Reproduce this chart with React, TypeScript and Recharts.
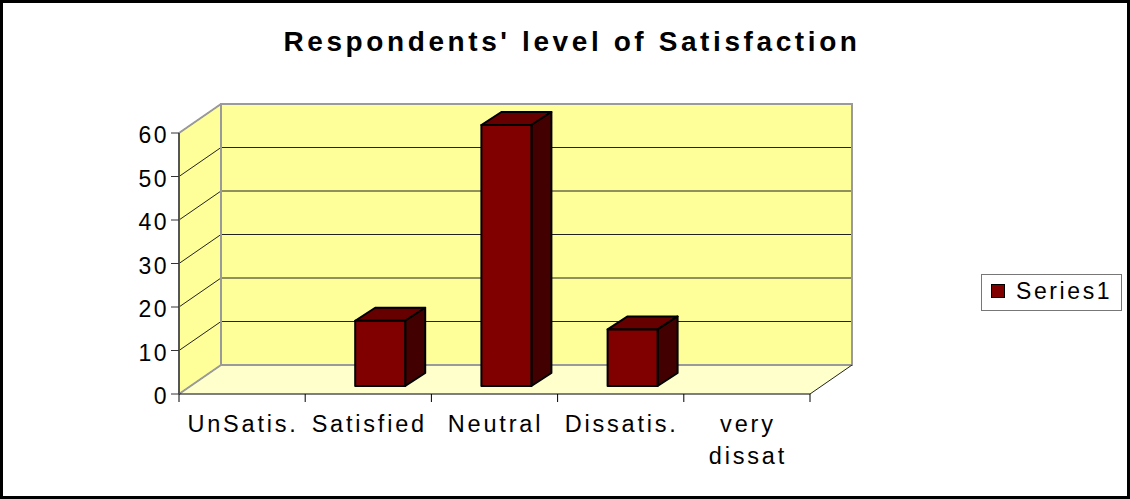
import { BarChart, Bar, XAxis, YAxis, CartesianGrid, ReferenceArea, Legend } from 'recharts';

const categories = ['UnSatis.', 'Satisfied', 'Neutral', 'Dissatis.', 'very dissat'];
const series1 = [0, 15, 60, 13, 0];
const yTicks = [0, 10, 20, 30, 40, 50, 60];

const data = categories.map((category, i) => ({ category, Series1: series1[i] }));

const FONT = '"Liberation Sans", Arial, sans-serif';
// depth of the 3D box and of the bars
const DX = 42;
const DY = 29;
const BAR_DX = 12;
const BAR_DY = 8;
const BAR_DEPTH_X = 20;
const BAR_DEPTH_Y = 13;

function Walls(props: any) {
  const { x, y, width: w, height: h } = props;
  const b = y + h;
  return (
    <g>
      <rect x={x + DX} y={y - DY} width={w} height={h} fill="#FFFF99" />
      <polygon points={`${x},${b} ${x},${y} ${x + DX},${y - DY} ${x + DX},${b - DY}`} fill="#FFFF99" />
      <polygon points={`${x},${b} ${x + w},${b} ${x + w + DX},${b - DY} ${x + DX},${b - DY}`} fill="#FFFFCC" />
    </g>
  );
}

function WallEdges(props: any) {
  const { x, y, width: w, height: h } = props;
  const b = y + h;
  const n = categories.length;
  return (
    <g>
      <rect x={x + DX} y={y - DY} width={w} height={h} fill="none" stroke="#9a9a9a" strokeWidth={2} />
      <line x1={x} y1={y} x2={x + DX} y2={y - DY} stroke="#9a9a9a" strokeWidth={2} />
      <line x1={x} y1={b} x2={x + DX} y2={b - DY} stroke="#9a9a9a" strokeWidth={2} />
      <line x1={x + w} y1={b} x2={x + w + DX} y2={b - DY} stroke="#222" strokeWidth={1} />
      {Array.from({ length: n + 1 }, (_, i) => (
        <line key={i} x1={x + (i * w) / n} y1={b} x2={x + (i * w) / n} y2={b + 8} stroke="#000" strokeWidth={1} />
      ))}
    </g>
  );
}

function GridLine(props: any) {
  const { x1, y1, x2 } = props;
  return (
    <g key={props.key}>
      <line x1={x1 + DX} y1={y1 - DY} x2={x2 + DX} y2={y1 - DY} stroke="#222" strokeWidth={1} />
      <line x1={x1} y1={y1} x2={x1 + DX} y2={y1 - DY} stroke="#222" strokeWidth={1} />
    </g>
  );
}

function Bar3D(props: any) {
  const { x, y, width: w, height: h } = props;
  if (!h || h <= 0) return null;
  const fx = x + BAR_DX;
  const fy = y - BAR_DY;
  const bx = fx + BAR_DEPTH_X;
  const by = fy - BAR_DEPTH_Y;
  return (
    <g stroke="#000" strokeWidth={2} strokeLinejoin="round">
      <polygon points={`${fx},${fy} ${bx},${by} ${bx + w},${by} ${fx + w},${fy}`} fill="#660000" />
      <polygon points={`${fx + w},${fy} ${bx + w},${by} ${bx + w},${by + h} ${fx + w},${fy + h}`} fill="#420000" />
      <rect x={fx} y={fy} width={w} height={h} fill="#800000" />
    </g>
  );
}

function CategoryTick(props: any) {
  const { x, y, payload } = props;
  const label: string = payload.value;
  const lines = label.includes(' ') ? label.split(' ') : [label];
  return (
    <text x={x} y={y} textAnchor="middle" fontSize={23.5} fill="#000" fontFamily={FONT} letterSpacing={2.8}>
      {lines.map((l, i) => (
        <tspan key={i} x={x + 1} dy={i === 0 ? 38 : 32}>
          {l}
        </tspan>
      ))}
    </text>
  );
}

function ValueTick(props: any) {
  const { x, y, payload } = props;
  return (
    <text x={x} y={y} dy={10} textAnchor="end" fontSize={23} fill="#000" fontFamily={FONT} letterSpacing={2.5}>
      {payload.value}
    </text>
  );
}

function LegendBox(props: any) {
  const item = (props.payload || [])[0];
  return (
    <div
      style={{
        position: 'relative',
        width: 141,
        height: 37,
        boxSizing: 'border-box',
        border: '1px solid #777',
        background: '#fff',
      }}
    >
      <div
        style={{
          position: 'absolute',
          left: 9,
          top: 9,
          width: 14,
          height: 14,
          boxSizing: 'border-box',
          background: item ? item.color : '#800000',
          border: '1px solid #000',
        }}
      />
      <span
        style={{
          position: 'absolute',
          left: 34,
          top: 5,
          fontSize: 23,
          lineHeight: '23px',
          letterSpacing: 2.6,
          color: '#000',
          whiteSpace: 'nowrap',
        }}
      >
        {item ? item.value : 'Series1'}
      </span>
    </div>
  );
}

export default function App() {
  return (
    <div
      style={{
        position: 'absolute',
        left: 0,
        top: 0,
        width: 1130,
        height: 499,
        background: '#fff',
        overflow: 'hidden',
        fontFamily: FONT,
      }}
    >
      <BarChart
        width={1130}
        height={499}
        data={data}
        margin={{ top: 133, right: 320, bottom: 45, left: 119 }}
        barSize={50}
      >
        <ReferenceArea
          x1={categories[0]}
          x2={categories[categories.length - 1]}
          y1={0}
          y2={60}
          shape={Walls}
          zIndex={-200}
          ifOverflow="visible"
        />
        <CartesianGrid vertical={false} horizontal={GridLine} />
        <ReferenceArea
          x1={categories[0]}
          x2={categories[categories.length - 1]}
          y1={0}
          y2={60}
          shape={WallEdges}
          ifOverflow="visible"
        />
        <XAxis
          dataKey="category"
          interval={0}
          height={60}
          tickLine={false}
          tickSize={0}
          tickMargin={0}
          axisLine={{ stroke: '#000', strokeWidth: 1 }}
          tick={CategoryTick}
        />
        <YAxis
          type="number"
          domain={[0, 60]}
          ticks={yTicks}
          interval={0}
          width={60}
          tickSize={8}
          tickMargin={2}
          axisLine={{ stroke: '#555', strokeWidth: 2 }}
          tickLine={{ stroke: '#333' }}
          tick={ValueTick}
        />
        <Legend
          layout="horizontal"
          verticalAlign="middle"
          align="center"
          content={LegendBox}
          wrapperStyle={{ left: 981, top: 274, width: 141, height: 37 }}
        />
        <Bar dataKey="Series1" name="Series1" fill="#800000" shape={Bar3D} isAnimationActive={false} />
      </BarChart>
      <div
        style={{
          position: 'absolute',
          left: 0,
          top: 28,
          width: 1144,
          textAlign: 'center',
          fontSize: 28,
          lineHeight: '28px',
          fontWeight: 'bold',
          letterSpacing: 3.6,
          color: '#000',
          whiteSpace: 'nowrap',
        }}
      >
        Respondents' level of Satisfaction
      </div>
      <div
        style={{
          position: 'absolute',
          left: 0,
          top: 0,
          width: 1130,
          height: 499,
          boxSizing: 'border-box',
          border: '3px solid #000',
          pointerEvents: 'none',
        }}
      />
    </div>
  );
}
